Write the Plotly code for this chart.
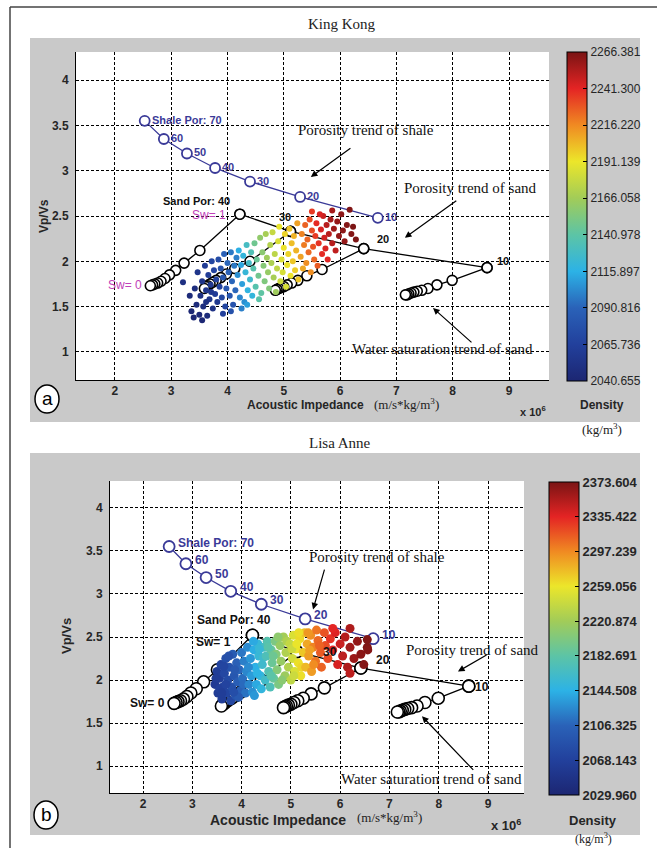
import plotly.graph_objects as go

W, H = 657, 848

# ---------------- data ----------------
# Rock-physics model: shale porosity trend
shale_por = [70, 60, 50, 40, 30, 20, 10]
shale_ai = [2.53, 2.87, 3.28, 3.78, 4.40, 5.29, 6.67]
shale_vpvs = [3.55, 3.35, 3.19, 3.03, 2.88, 2.71, 2.48]
shale_labels = ["Shale Por: 70", "60", "50", "40", "30", "20", "10"]

# Sand water-saturation trends (Sw = 1.0 ... 0.0) for porosity 40, 30, 20, 10
sw_levels = [1.0, 0.9, 0.8, 0.7, 0.6, 0.5, 0.4, 0.3, 0.2, 0.1, 0.0]
sand40_ai = [4.22, 3.51, 3.23, 3.08, 2.97, 2.89, 2.82, 2.76, 2.71, 2.67, 2.63]
sand40_vpvs = [2.52, 2.12, 1.98, 1.90, 1.85, 1.81, 1.78, 1.76, 1.75, 1.74, 1.73]
sand30_ai = [5.12, 4.40, 4.13, 3.98, 3.88, 3.80, 3.74, 3.69, 3.65, 3.62, 3.59]
sand30_vpvs = [2.33, 2.00, 1.92, 1.86, 1.82, 1.79, 1.77, 1.75, 1.73, 1.72, 1.70]
sand20_ai = [6.42, 5.68, 5.41, 5.25, 5.14, 5.06, 5.00, 4.95, 4.91, 4.88, 4.85]
sand20_vpvs = [2.14, 1.91, 1.84, 1.79, 1.76, 1.74, 1.72, 1.71, 1.70, 1.69, 1.68]
sand10_ai = [8.61, 7.99, 7.72, 7.56, 7.45, 7.37, 7.31, 7.26, 7.22, 7.19, 7.16]
sand10_vpvs = [1.93, 1.79, 1.74, 1.70, 1.68, 1.67, 1.66, 1.65, 1.64, 1.63, 1.63]

# King Kong well data (AI x1e6, Vp/Vs, density kg/m3)
kk_ai = [3.33, 3.36, 3.40, 3.42, 3.45, 3.47, 3.50, 3.52, 3.55, 3.57, 3.60, 3.62, 3.64, 3.66,
         3.68, 3.70, 3.72, 3.74, 3.76, 3.78, 3.80, 3.82, 3.84, 3.86, 3.21, 3.55, 3.62, 3.71,
         3.88, 3.90, 3.92, 3.94, 3.96, 3.98, 4.00, 4.02, 4.04, 4.06, 4.08, 4.10, 4.12, 4.14,
         4.16, 3.92, 4.06,
         4.18, 4.20, 4.22, 4.24, 4.26, 4.28, 4.30, 4.32, 4.34, 4.36, 4.38, 4.40, 4.42, 4.44,
         4.25, 4.35,
         4.46, 4.48, 4.50, 4.52, 4.55, 4.58, 4.60, 4.62, 4.64, 4.66, 4.68, 4.70, 4.72, 4.74,
         4.76, 4.78, 4.80, 4.82, 4.84, 4.86, 4.88, 4.56,
         4.90, 4.92, 4.94, 4.96, 4.98, 5.00, 5.02, 5.04, 5.06, 5.08, 5.10, 5.12, 5.14, 5.16,
         5.18, 5.20, 5.22, 5.24, 5.26,
         5.30, 5.32, 5.34, 5.36, 5.38, 5.40, 5.42, 5.44, 5.46, 5.48, 5.50, 5.52, 5.54, 5.56,
         5.58, 5.60, 5.62,
         5.66, 5.68, 5.70, 5.72, 5.74, 5.76, 5.78, 5.80, 5.83, 5.86, 5.89, 5.92, 5.95, 5.98,
         6.02, 6.05, 6.08, 6.12, 6.17, 6.20, 6.23, 6.28, 5.64, 5.50, 5.86]
kk_vpvs = [1.62, 1.45, 1.38, 1.70, 1.52, 1.88, 1.41, 1.62, 1.78, 1.50, 1.95, 1.68, 1.40, 1.85,
           1.58, 1.74, 2.00, 1.48, 1.90, 1.64, 1.80, 1.55, 2.02, 1.72, 1.77, 1.35, 1.55, 1.66,
           1.92, 1.60, 1.82, 2.08, 1.50, 1.70, 1.98, 1.88, 1.62, 2.10, 1.78, 1.52, 1.95, 1.68,
           2.04, 1.42, 1.45,
           1.85, 2.12, 1.60, 1.96, 1.75, 2.06, 1.55, 1.88, 2.18, 1.68, 1.98, 1.80, 2.10, 1.62,
           1.48, 1.52,
           1.92, 2.20, 1.72, 2.02, 1.84, 2.26, 1.65, 2.10, 1.95, 1.78, 2.30, 2.04, 1.88, 1.70,
           2.18, 1.98, 2.32, 1.82, 2.08, 1.66, 1.92, 1.58,
           2.22, 2.38, 1.78, 2.02, 1.88, 2.15, 2.30, 1.72, 1.96, 2.08, 2.36, 1.84, 2.20, 2.00,
           2.28, 1.90, 2.12, 2.42, 1.80,
           2.05, 2.30, 1.92, 2.18, 2.40, 1.98, 2.24, 2.10, 2.46, 1.88, 2.34, 2.16, 2.02, 2.28,
           2.42, 1.95, 2.20,
           2.35, 2.08, 2.50, 2.26, 2.14, 2.40, 2.02, 2.30, 2.46, 2.20, 2.36, 2.12, 2.44, 2.28,
           2.52, 2.34, 2.22, 2.40, 2.57, 2.30, 2.38, 2.24, 2.52, 2.55, 2.56]
kk_rho = [2045, 2042, 2041, 2048, 2046, 2055, 2043, 2050, 2054, 2048, 2062, 2056, 2045, 2062,
          2055, 2060, 2070, 2052, 2068, 2062, 2068, 2058, 2075, 2068, 2050, 2042, 2050, 2058,
          2078, 2072, 2082, 2090, 2070, 2082, 2092, 2090, 2082, 2098, 2092, 2080, 2098, 2092,
          2100, 2066, 2078,
          2105, 2115, 2102, 2112, 2110, 2120, 2105, 2122, 2130, 2118, 2128, 2126, 2135, 2120,
          2100, 2110,
          2138, 2148, 2138, 2146, 2148, 2160, 2142, 2158, 2156, 2154, 2168, 2165, 2162, 2155,
          2172, 2170, 2178, 2168, 2175, 2165, 2176, 2140,
          2185, 2190, 2180, 2186, 2184, 2192, 2196, 2184, 2192, 2196, 2200, 2192, 2202, 2200,
          2205, 2198, 2205, 2210, 2200,
          2210, 2218, 2208, 2220, 2226, 2215, 2225, 2224, 2232, 2215, 2232, 2230, 2225, 2236,
          2240, 2228, 2238,
          2244, 2240, 2248, 2246, 2244, 2252, 2242, 2252, 2256, 2252, 2258, 2250, 2260, 2260,
          2262, 2262, 2260, 2264, 2265, 2264, 2266, 2266, 2244, 2236, 2256]

# Lisa Anne well data
la_ai = [3.46, 3.50, 3.52, 3.55, 3.58, 3.60, 3.62, 3.65, 3.68, 3.70, 3.72, 3.75, 3.78, 3.80,
         3.82, 3.85, 3.88, 3.90, 3.92, 3.95, 3.98, 4.00, 4.02, 4.05, 4.08, 4.10,
         3.48, 3.56, 3.64, 3.68, 3.74, 3.86, 3.94, 4.04, 3.60, 3.84,
         4.12, 4.15, 4.18, 4.20, 4.22, 4.25, 4.28, 4.30, 4.33, 4.35, 4.38, 4.40, 4.42, 4.45,
         4.48, 4.14, 4.24, 4.32, 4.26, 4.44, 4.36,
         4.50, 4.52, 4.55, 4.58, 4.60, 4.62, 4.65, 4.68, 4.70, 4.72, 4.75, 4.78, 4.80, 4.85,
         4.88, 4.90, 4.95, 4.54, 4.64, 4.74, 4.82, 4.92, 4.60,
         4.98, 5.00, 5.03, 5.05, 5.08, 5.10, 5.15, 5.18, 5.20, 5.25, 5.28, 5.02, 5.12, 5.22,
         5.06, 5.16,
         5.30, 5.33, 5.36, 5.40, 5.42, 5.45, 5.50, 5.52, 5.55, 5.60, 5.62, 5.68, 5.70, 5.75,
         5.35, 5.46, 5.58, 5.38,
         5.80, 5.85, 5.90, 5.95, 6.00, 6.05, 6.10, 6.15, 6.20, 6.28, 6.35, 6.42, 6.48, 6.20,
         6.55, 5.85, 6.20, 6.56, 6.55]
la_vpvs = [1.95, 2.10, 1.85, 2.02, 2.18, 1.78, 1.92, 2.08, 2.25, 1.85, 2.00, 2.15, 1.76, 1.92,
           2.30, 2.05, 1.82, 2.20, 1.98, 2.12, 1.88, 2.32, 2.02, 2.22, 1.85, 2.10,
           2.02, 1.90, 2.16, 1.95, 2.28, 2.12, 1.80, 1.95, 1.85, 1.86,
           2.38, 1.95, 2.25, 2.05, 1.86, 2.35, 2.15, 1.95, 2.42, 2.28, 2.05, 1.90, 2.18, 2.38,
           2.00, 2.15, 2.45, 2.08, 1.82, 2.26, 2.36,
           2.28, 2.45, 2.10, 1.92, 2.35, 2.20, 2.02, 2.45, 2.30, 2.12, 1.95, 2.40, 2.22, 2.50,
           2.05, 2.32, 2.15, 2.38, 2.28, 2.50, 2.00, 2.45, 2.05,
           2.42, 2.00, 2.25, 2.52, 2.10, 2.36, 2.20, 2.48, 2.05, 2.32, 2.55, 2.36, 2.42, 2.15,
           2.05, 2.55,
           2.15, 2.42, 2.28, 2.52, 2.10, 2.38, 2.22, 2.58, 2.46, 2.32, 2.15, 2.55, 2.40, 2.25,
           2.55, 2.18, 2.40, 2.35,
           2.48, 2.35, 2.55, 2.18, 2.42, 2.28, 2.50, 2.15, 2.38, 2.25, 2.45, 2.30, 2.18, 2.08,
           2.38, 2.60, 2.60, 2.35, 2.47]
la_rho = [2060, 2064, 2062, 2066, 2072, 2064, 2070, 2076, 2084, 2074, 2080, 2088, 2076, 2086,
          2098, 2094, 2090, 2104, 2102, 2108, 2104, 2116, 2112, 2120, 2114, 2124,
          2062, 2066, 2074, 2072, 2086, 2096, 2096, 2110, 2064, 2084,
          2126, 2124, 2132, 2134, 2128, 2142, 2144, 2140, 2152, 2154, 2152, 2150, 2160, 2166,
          2162, 2126, 2140, 2146, 2132, 2160, 2154,
          2172, 2178, 2175, 2172, 2188, 2190, 2188, 2200, 2205, 2205, 2200, 2215, 2215, 2222,
          2218, 2228, 2230, 2180, 2192, 2210, 2208, 2228, 2182,
          2238, 2235, 2245, 2250, 2250, 2258, 2262, 2265, 2262, 2272, 2275, 2242, 2258, 2266,
          2242, 2262,
          2278, 2285, 2290, 2295, 2290, 2300, 2305, 2305, 2310, 2315, 2312, 2318, 2320, 2322,
          2292, 2296, 2312, 2288,
          2330, 2335, 2338, 2340, 2345, 2350, 2352, 2355, 2360, 2362, 2365, 2368, 2370, 2350,
          2372, 2335, 2355, 2370, 2372]

x_ticks = [2, 3, 4, 5, 6, 7, 8, 9]
y_ticks = [1, 1.5, 2, 2.5, 3, 3.5, 4]
kk_cbar_ticks = [2040.655, 2065.736, 2090.816, 2115.897, 2140.978,
                 2166.058, 2191.139, 2216.220, 2241.300, 2266.381]
la_cbar_ticks = [2029.960, 2068.143, 2106.325, 2144.508, 2182.691,
                 2220.874, 2259.056, 2297.239, 2335.422, 2373.604]

# ---------------- styling ----------------
SANS = "Arial, Liberation Sans, sans-serif"
SERIF = "Times New Roman, Liberation Serif, serif"
SHALE_C = "#3a3a98"
MAG = "#c040b8"
GRAY = "#c9c9c9"
TXT = "#262626"

jet = [[0.0, "#1c2672"], [0.111, "#22409c"], [0.222, "#2a62b8"], [0.333, "#2cb2e6"],
       [0.444, "#5cc4a6"], [0.556, "#a2cc58"], [0.667, "#ece62a"], [0.778, "#f08a22"],
       [0.889, "#e42424"], [1.0, "#7a1414"]]


def px_x(p):
    return p / W


def px_y(p):
    return 1 - p / H


fig = go.Figure()

panels = [
    dict(xa="x", ya="y", xdom=[76, 549], ydom=[52, 380], xr=[1.31, 9.71], ca="coloraxis",
         cloud=(kk_ai, kk_vpvs, kk_rho), msize=6, csize=10, ssize=10),
    dict(xa="x2", ya="y2", xdom=[110, 524], ydom=[481, 793], xr=[1.33, 9.73], ca="coloraxis2",
         cloud=(la_ai, la_vpvs, la_rho), msize=9, csize=12, ssize=11),
]

sand_sets = [(sand40_ai, sand40_vpvs), (sand30_ai, sand30_vpvs),
             (sand20_ai, sand20_vpvs), (sand10_ai, sand10_vpvs)]

for p in panels:
    # water saturation trends
    for sx, sy in sand_sets:
        fig.add_trace(go.Scatter(x=sx, y=sy, mode="lines+markers", xaxis=p["xa"], yaxis=p["ya"],
                                 line=dict(color="black", width=1.3),
                                 marker=dict(symbol="circle", size=p["csize"], color="white",
                                             line=dict(color="black", width=1.6)),
                                 showlegend=False, hoverinfo="skip"))
    # sand porosity trend (Sw = 1)
    fig.add_trace(go.Scatter(x=[s[0][0] for s in sand_sets], y=[s[1][0] for s in sand_sets],
                             mode="lines+markers", xaxis=p["xa"], yaxis=p["ya"],
                             line=dict(color="black", width=1.3),
                             marker=dict(symbol="circle", size=p["csize"], color="white",
                                         line=dict(color="black", width=1.6)),
                             showlegend=False, hoverinfo="skip"))
    # shale trend
    fig.add_trace(go.Scatter(x=shale_ai, y=shale_vpvs, mode="lines+markers",
                             xaxis=p["xa"], yaxis=p["ya"],
                             line=dict(color=SHALE_C, width=1.3),
                             marker=dict(symbol="circle", size=p["ssize"], color="white",
                                         line=dict(color=SHALE_C, width=1.8)),
                             showlegend=False, hoverinfo="skip"))
    # well data cloud (drawn on top)
    cx, cy, cr = p["cloud"]
    fig.add_trace(go.Scatter(x=cx, y=cy, mode="markers", xaxis=p["xa"], yaxis=p["ya"],
                             marker=dict(size=p["msize"], color=cr, coloraxis=p["ca"],
                                         line=dict(width=0)),
                             showlegend=False, hoverinfo="skip"))

axis_common = dict(showgrid=True, gridcolor="black", griddash="3px,2px", gridwidth=1,
                   showline=True, linecolor="black", linewidth=1, zeroline=False,
                   ticks="", mirror=False,
                   tickfont=dict(family=SANS, size=12, color=TXT, weight="bold"))

layout = dict(width=W, height=H, margin=dict(l=0, r=0, t=0, b=0),
              paper_bgcolor="white", plot_bgcolor="white", showlegend=False)
for i, p in enumerate(panels):
    xn = "xaxis" if i == 0 else "xaxis2"
    yn = "yaxis" if i == 0 else "yaxis2"
    layout[xn] = dict(axis_common, domain=[px_x(p["xdom"][0]), px_x(p["xdom"][1])],
                      anchor=p["ya"], range=p["xr"], tickvals=x_ticks,
                      ticktext=[str(v) for v in x_ticks])
    layout[yn] = dict(axis_common, domain=[px_y(p["ydom"][1]), px_y(p["ydom"][0])],
                      anchor=p["xa"], range=[0.69, 4.31], tickvals=y_ticks,
                      ticktext=[("%g" % v) for v in y_ticks], ticklabelstandoff=4)

cb_common = dict(thicknessmode="pixels", lenmode="fraction", xanchor="left", yanchor="bottom",
                 xpad=0, ypad=0, outlinecolor="black", outlinewidth=1, ticks="inside",
                 ticklen=4, tickcolor="black")
layout["coloraxis"] = dict(colorscale=jet, cmin=kk_cbar_ticks[0], cmax=kk_cbar_ticks[-1],
                           colorbar=dict(cb_common, x=px_x(567), y=px_y(381), thickness=20,
                                         len=(381 - 52) / H, tickvals=kk_cbar_ticks,
                                         ticktext=["%.3f" % v for v in kk_cbar_ticks],
                                         tickfont=dict(family=SANS, size=12, color=TXT)))
layout["coloraxis2"] = dict(colorscale=jet, cmin=la_cbar_ticks[0], cmax=la_cbar_ticks[-1],
                            colorbar=dict(cb_common, x=px_x(549), y=px_y(795), thickness=30,
                                          len=(795 - 482) / H, tickvals=la_cbar_ticks,
                                          ticktext=["%.3f" % v for v in la_cbar_ticks],
                                          tickfont=dict(family=SANS, size=13, color=TXT,
                                                        weight="bold")))
fig.update_layout(**layout)

shapes = []
# gray panels
for y0, y1 in [(38, 422), (453, 835)]:
    shapes.append(dict(type="rect", xref="paper", yref="paper", x0=px_x(30), x1=px_x(640),
                       y0=px_y(y1), y1=px_y(y0), fillcolor=GRAY, line=dict(width=0),
                       layer="below"))
# white plot areas
for xa, ya in [("x", "y"), ("x2", "y2")]:
    shapes.append(dict(type="rect", xref=xa + " domain", yref=ya + " domain", x0=0, x1=1,
                       y0=0, y1=1, fillcolor="white", line=dict(width=0), layer="below"))
# outer frame
shapes.append(dict(type="line", xref="paper", yref="paper", x0=px_x(10), x1=1,
                   y0=px_y(7), y1=px_y(7), line=dict(color="#444", width=1.5)))
shapes.append(dict(type="line", xref="paper", yref="paper", x0=px_x(10), x1=px_x(10),
                   y0=0, y1=px_y(7), line=dict(color="#444", width=1.5)))
# panel letters
for cxp, cyp in [(47, 399), (46, 815)]:
    shapes.append(dict(type="circle", xref="paper", yref="paper", x0=px_x(cxp - 12),
                       x1=px_x(cxp + 12), y0=px_y(cyp + 14), y1=px_y(cyp - 14),
                       fillcolor="white", line=dict(color="black", width=1.5)))
fig.update_layout(shapes=shapes)


def txt(x, y, text, size, color=TXT, family=SANS, bold=False, xref="paper", yref="paper",
        xanchor="center", yanchor="middle", xshift=0, yshift=0, angle=0):
    fig.add_annotation(x=x, y=y, xref=xref, yref=yref, text=text, showarrow=False,
                       font=dict(family=family, size=size, color=color,
                                 weight="bold" if bold else "normal"),
                       xanchor=xanchor, yanchor=yanchor, xshift=xshift, yshift=yshift,
                       textangle=angle)


def arrow(xa, ya, hx, hy, tx, ty):
    fig.add_annotation(x=hx, y=hy, ax=tx, ay=ty, xref=xa, yref=ya, axref=xa, ayref=ya,
                       text="", showarrow=True, arrowhead=2, arrowsize=1.1, arrowwidth=1.2,
                       arrowcolor="black")


# titles
txt(px_x(342), px_y(24), "King Kong", 15, "#222", SERIF)
txt(px_x(340), px_y(443), "Lisa Anne", 15, "#222", SERIF)

# panel letters
txt(px_x(47), px_y(398), "a", 19, "black", SANS)
txt(px_x(46), px_y(814), "b", 19, "black", SANS)

# axis titles
txt(px_x(44), px_y(216), "Vp/Vs", 12, TXT, SANS, True, angle=-90)
txt(px_x(66), px_y(636), "Vp/Vs", 13, TXT, SANS, True, angle=-90)
txt(px_x(366), px_y(405), "Acoustic Impedance", 12, TXT, SANS, True, xanchor="right")
txt(px_x(372), px_y(404), "(m/s*kg/m<sup>3</sup>)", 13, "#222", SERIF, xanchor="left")
txt(px_x(348), px_y(820), "Acoustic Impedance", 14, TXT, SANS, True, xanchor="right")
txt(px_x(355), px_y(817), "(m/s*kg/m<sup>3</sup>)", 13, "#222", SERIF, xanchor="left")
txt(px_x(533), px_y(411), "x 10<sup>6</sup>", 11, TXT, SANS, True)
txt(px_x(506), px_y(825), "x 10<sup>6</sup>", 13, TXT, SANS, True)

# colorbar titles
txt(px_x(602), px_y(405), "Density", 12, TXT, SANS, True)
txt(px_x(602), px_y(429), "(kg/m<sup>3</sup>)", 13, "#222", SERIF)
txt(px_x(593), px_y(820), "Density", 13, TXT, SANS, True)
txt(px_x(593), px_y(838), "(kg/m<sup>3</sup>)", 12, "#222", SERIF)

# shale porosity labels
for (xa, ya, sz, xs, ys) in [("x", "y", 11, 5, 1), ("x2", "y2", 12, 7, 4)]:
    for xv, yv, lab in zip(shale_ai, shale_vpvs, shale_labels):
        txt(xv, yv, lab, sz, SHALE_C, SANS, True, xref=xa, yref=ya, xanchor="left",
            xshift=xs, yshift=ys)

# sand labels, King Kong
txt(3.45, 2.67, "Sand Por: 40", 11, "#111", SANS, True, xref="x", yref="y")
txt(4.01, 2.51, "Sw= 1", 12, MAG, SANS, xref="x", yref="y", xanchor="right")
txt(2.52, 1.74, "Sw= 0", 12, MAG, SANS, xref="x", yref="y", xanchor="right")
txt(5.02, 2.49, "30", 11, "#111", SANS, True, xref="x", yref="y")
txt(6.76, 2.25, "20", 11, "#111", SANS, True, xref="x", yref="y")
txt(8.89, 2.00, "10", 11, "#111", SANS, True, xref="x", yref="y")

# sand labels, Lisa Anne
txt(3.85, 2.70, "Sand Por: 40", 12, "#111", SANS, True, xref="x2", yref="y2")
txt(3.83, 2.44, "Sw= 1", 12, "#111", SANS, True, xref="x2", yref="y2", xanchor="right")
txt(2.49, 1.73, "Sw= 0", 12, "#111", SANS, True, xref="x2", yref="y2", xanchor="right")
txt(5.79, 2.33, "30", 12, "#111", SANS, True, xref="x2", yref="y2")
txt(6.87, 2.23, "20", 12, "#111", SANS, True, xref="x2", yref="y2")
txt(8.88, 1.92, "10", 12, "#111", SANS, True, xref="x2", yref="y2")

# trend annotations, King Kong
txt(6.46, 3.45, "Porosity trend of shale", 15, "#111", SERIF, xref="x", yref="y")
arrow("x", "y", 5.48, 2.93, 6.21, 3.26)
txt(8.31, 2.81, "Porosity trend of sand", 15, "#111", SERIF, xref="x", yref="y")
arrow("x", "y", 7.15, 2.26, 8.09, 2.68)
txt(7.81, 1.03, "Water saturation trend of sand", 15, "#111", SERIF, xref="x", yref="y")
arrow("x", "y", 7.65, 1.485, 8.36, 1.09)

# trend annotations, Lisa Anne
txt(6.75, 3.43, "Porosity trend of shale", 15, "#111", SERIF, xref="x2", yref="y2")
arrow("x2", "y2", 5.45, 2.82, 5.69, 3.30)
txt(8.69, 2.35, "Porosity trend of sand", 15, "#111", SERIF, xref="x2", yref="y2")
arrow("x2", "y2", 8.39, 2.10, 9.00, 2.30)
txt(7.86, 0.85, "Water saturation trend of sand", 15, "#111", SERIF, xref="x2", yref="y2")
arrow("x2", "y2", 7.66, 1.58, 8.73, 0.94)

fig.write_html("out.html", config={"displayModeBar": False},
               post_script="document.body.style.margin='0';document.body.style.padding='0';")
